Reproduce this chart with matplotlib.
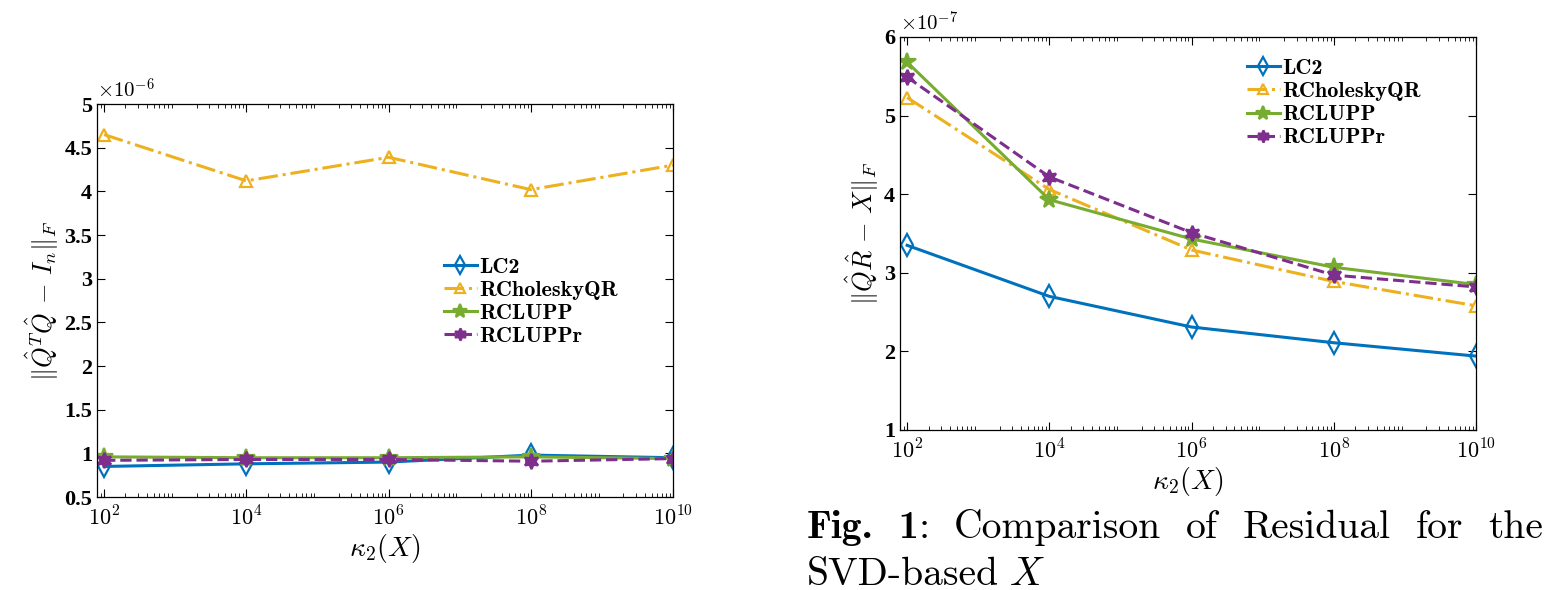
import os
import numpy as np
import matplotlib
matplotlib.use('Agg')
from matplotlib import pyplot as plt
from matplotlib.font_manager import FontProperties
from matplotlib.ticker import FuncFormatter, LogLocator, NullFormatter

plt.rcParams['mathtext.fontset'] = 'cm'
plt.rcParams['font.family'] = 'serif'
plt.rcParams['font.serif'] = ['Liberation Serif', 'DejaVu Serif']

ttf = os.path.join(matplotlib.get_data_path(), 'fonts', 'ttf')
cmr = os.path.join(ttf, 'cmr10.ttf')
cmb = os.path.join(ttf, 'cmb10.ttf')
cmmi = os.path.join(ttf, 'cmmi10.ttf')

# data
kappa = [1e2, 1e4, 1e6, 1e8, 1e10]
methods = ['LC2', 'RCholeskyQR', 'RCLUPP', 'RCLUPPr']

# orthogonality  ||Q^T Q - I||_F
orth_lc2 = [0.85e-6, 0.88e-6, 0.90e-6, 0.98e-6, 0.95e-6]
orth_rchol = [4.65e-6, 4.12e-6, 4.39e-6, 4.02e-6, 4.30e-6]
orth_rclupp = [0.96e-6, 0.95e-6, 0.95e-6, 0.96e-6, 0.94e-6]
orth_rcluppr = [0.92e-6, 0.93e-6, 0.93e-6, 0.91e-6, 0.94e-6]

# residual  ||QR - X||_F
res_lc2 = [3.35e-7, 2.70e-7, 2.31e-7, 2.11e-7, 1.94e-7]
res_rchol = [5.23e-7, 4.06e-7, 3.29e-7, 2.89e-7, 2.58e-7]
res_rclupp = [5.68e-7, 3.93e-7, 3.43e-7, 3.07e-7, 2.85e-7]
res_rcluppr = [5.49e-7, 4.22e-7, 3.51e-7, 2.97e-7, 2.82e-7]

# matlab default colours
cols = ['#0072BD', '#EDB120', '#77AC30', '#7E2F8E']
styles = [
    dict(ls='-', marker='d', mfc='none', ms=11),
    dict(ls='-.', marker='^', mfc='none', ms=9),
    dict(ls='-', marker='*', ms=13),
    dict(ls='--', marker=(6, 1, 0), ms=11),
]


def draw(ax, series, scale, exp, ylim, yticks, ylabel):
    for name, y, c, st in zip(methods, series, cols, styles):
        ax.plot(kappa, y, color=c, lw=2.2, mew=1.6, label=name, **st)
    ax.set_xscale('log')
    ax.set_xlim(10 ** 1.9, 1e10)
    ax.set_ylim(ylim[0] * scale, ylim[1] * scale)
    ax.set_yticks([t * scale for t in yticks])
    ax.yaxis.set_major_formatter(FuncFormatter(lambda v, p: '%g' % round(v / scale, 3)))
    ax.set_xticks(kappa)
    ax.set_xticklabels([r'$\mathbf{10}^{\mathbf{%d}}$' % int(np.log10(k)) for k in kappa])
    ax.xaxis.set_minor_locator(LogLocator(base=10, subs=np.arange(2, 10), numticks=50))
    ax.xaxis.set_minor_formatter(NullFormatter())
    ax.tick_params(which='both', direction='in', top=True, right=True)
    ax.tick_params(which='major', length=6, labelsize=16)
    ax.tick_params(axis='x', which='major', pad=7)
    ax.tick_params(which='minor', length=3)
    for lab in ax.get_yticklabels():
        lab.set_fontweight('bold')
    ax.set_xlabel(r'$\kappa_2(X)$', fontsize=20, labelpad=1)
    ax.set_ylabel(ylabel, fontsize=19, labelpad=2)
    ax.text(0.0, 1.003, r'$\times 10^{%d}$' % exp, transform=ax.transAxes, fontsize=15, va='bottom')
    for s in ax.spines.values():
        s.set_linewidth(0.9)


fig = plt.figure(figsize=(15.44, 5.9), dpi=100)
ax1 = fig.add_axes([0.0628, 0.1576, 0.3731, 0.6661])
ax2 = fig.add_axes([0.5829, 0.2712, 0.3731, 0.6661])

draw(ax1, [orth_lc2, orth_rchol, orth_rclupp, orth_rcluppr], 1e-6, -6,
     (0.5, 5), [0.5, 1, 1.5, 2, 2.5, 3, 3.5, 4, 4.5, 5],
     r'$\Vert\hat{Q}^T\hat{Q}\,-\,I_n\Vert_F$')
draw(ax2, [res_lc2, res_rchol, res_rclupp, res_rcluppr], 1e-7, -7,
     (1, 6), [1, 2, 3, 4, 5, 6],
     r'$\Vert\hat{Q}\hat{R}\,-\,X\Vert_F$')

leg_kw = dict(loc='upper left', frameon=False, prop=FontProperties(fname=cmb, size=16),
              handlelength=1.45, handletextpad=0.1, labelspacing=0.16,
              borderaxespad=0, borderpad=0, markerscale=0.8)
ax1.legend(bbox_to_anchor=(0.603, 0.61), **leg_kw)
ax2.legend(bbox_to_anchor=(0.603, 0.945), **leg_kw)

# caption: justified first line, measured word by word
W, H = 1544.0, 590.0
cap_size = 28.5
x_left, x_right = 807.0, 1543.0
renderer = fig.canvas.get_renderer()


def word(s, f, x, base):
    return fig.text(x / W, 1 - base / H, s, fontproperties=FontProperties(fname=f, size=cap_size),
                    va='baseline', ha='left')


def width(t):
    return t.get_window_extent(renderer).width


groups = [[('Fig.', cmb)], [('1', cmb), (':', cmr)], [('Comparison', cmr)], [('of', cmr)],
          [('Residual', cmr)], [('for', cmr)], [('the', cmr)]]
texts = [[word(s, f, 0, 538) for s, f in g] for g in groups]
widths = [sum(width(t) for t in g) for g in texts]
gap = (x_right - x_left - sum(widths)) / (len(groups) - 1)
x = x_left
for g in texts:
    for t in g:
        t.set_x(x / W)
        x += width(t)
    x += gap

t2 = word('SVD-based', cmr, x_left, 585)
word('X', cmmi, x_left + width(t2) + 11, 585)

fig.savefig('out.png', dpi=100)
